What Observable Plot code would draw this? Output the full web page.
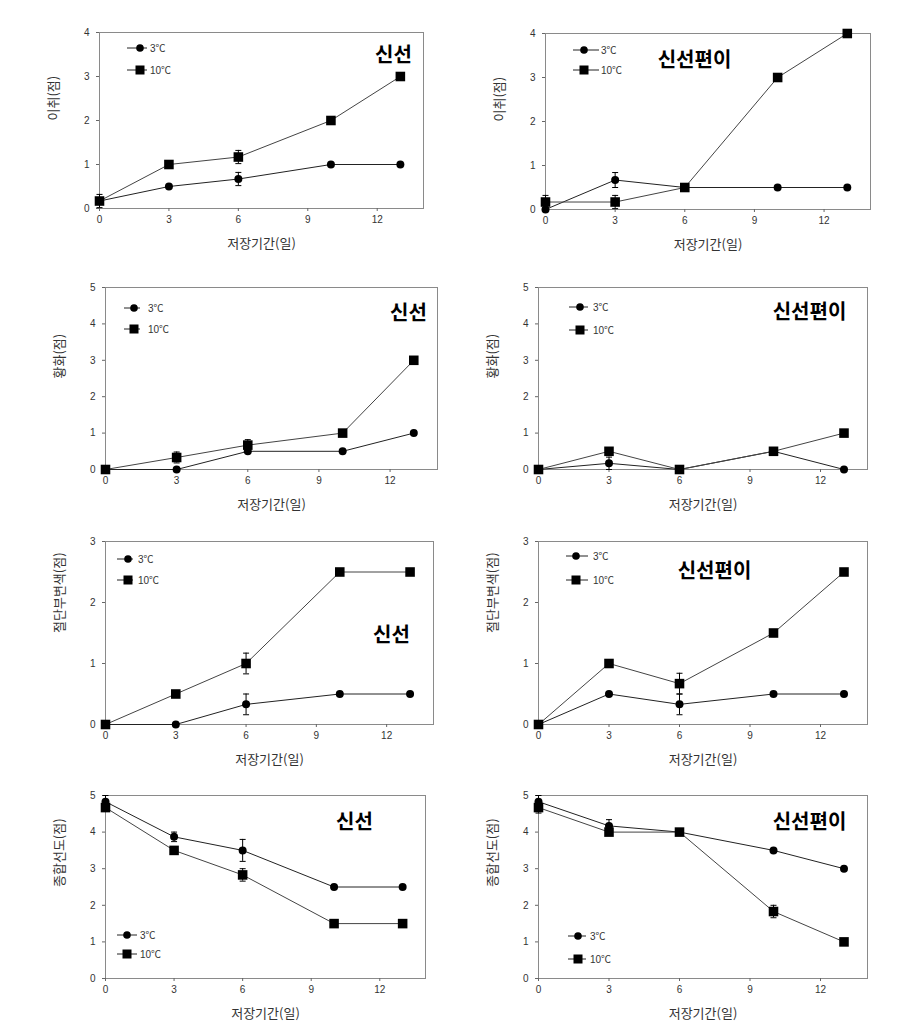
<!DOCTYPE html>
<html>
<head>
<meta charset="utf-8">
<script src="https://cdn.jsdelivr.net/npm/d3@7"></script>
<script src="https://cdn.jsdelivr.net/npm/@observablehq/plot@0.6"></script>
<style>
  body { margin: 0; background: #fff; }
  #wrap { position: relative; width: 913px; height: 1027px; background: #fff; overflow: hidden; }
  .cell { position: absolute; }
  .cell svg { overflow: visible; }
</style>
</head>
<body>
<div id="wrap"></div>
<script>
// ---------- data ----------
const days = [0, 3, 6, 10, 13];
const xTicks = [0, 3, 6, 9, 12];
const seriesNames = ["3℃", "10℃"];
const xLabel = "저장기간(일)";
const titleFresh = "신선";
const titleCut = "신선편이";

// 이취 (off-odor)
const odorFresh3 = [0.17, 0.5, 0.67, 1, 1];
const odorFresh3Err = [0, 0, 0.15, 0, 0];
const odorFresh10 = [0.17, 1, 1.17, 2, 3];
const odorFresh10Err = [0.15, 0, 0.15, 0, 0];
const odorCut3 = [0, 0.67, 0.5, 0.5, 0.5];
const odorCut3Err = [0, 0.17, 0, 0, 0];
const odorCut10 = [0.17, 0.17, 0.5, 3, 4];
const odorCut10Err = [0.15, 0.15, 0, 0, 0];

// 황화 (yellowing)
const yellowFresh3 = [0, 0, 0.5, 0.5, 1];
const yellowFresh3Err = [0, 0, 0, 0, 0];
const yellowFresh10 = [0, 0.33, 0.67, 1, 3];
const yellowFresh10Err = [0, 0.15, 0.15, 0, 0];
const yellowCut3 = [0, 0.17, 0, 0.5, 0];
const yellowCut3Err = [0, 0.17, 0, 0, 0];
const yellowCut10 = [0, 0.5, 0, 0.5, 1];
const yellowCut10Err = [0, 0, 0, 0, 0];

// 절단부변색 (cut-surface discoloration)
const brownFresh3 = [0, 0, 0.33, 0.5, 0.5];
const brownFresh3Err = [0, 0, 0.17, 0, 0];
const brownFresh10 = [0, 0.5, 1, 2.5, 2.5];
const brownFresh10Err = [0, 0, 0.17, 0, 0];
const brownCut3 = [0, 0.5, 0.33, 0.5, 0.5];
const brownCut3Err = [0, 0, 0.17, 0, 0];
const brownCut10 = [0, 1, 0.67, 1.5, 2.5];
const brownCut10Err = [0, 0, 0.17, 0, 0];

// 종합선도 (overall freshness)
const overallFresh3 = [4.83, 3.87, 3.5, 2.5, 2.5];
const overallFresh3Err = [0.17, 0.13, 0.3, 0, 0];
const overallFresh10 = [4.67, 3.5, 2.83, 1.5, 1.5];
const overallFresh10Err = [0.1, 0, 0.17, 0, 0];
const overallCut3 = [4.83, 4.17, 4, 3.5, 3];
const overallCut3Err = [0.17, 0.17, 0, 0, 0];
const overallCut10 = [4.67, 4, 4, 1.83, 1];
const overallCut10Err = [0.15, 0, 0, 0.17, 0];

// ---------- layout ----------
const panels = [
  {L: 99, T: 32, R: 423, B: 208, ymax: 4, ylabel: "이취(점)", title: titleFresh, tp: [294, 23],
   s3: odorFresh3, e3: odorFresh3Err, s10: odorFresh10, e10: odorFresh10Err,
   lg: {x1: 28, x2: 48, xm: 41, xt: 51, y1: 16, y2: 38}},
  {L: 545, T: 33, R: 870, B: 209, ymax: 4, ylabel: "이취(점)", title: titleCut, tp: [149, 27],
   s3: odorCut3, e3: odorCut3Err, s10: odorCut10, e10: odorCut10Err,
   lg: {x1: 28, x2: 54, xm: 39, xt: 56, y1: 17, y2: 37}},
  {L: 105, T: 287, R: 437, B: 469, ymax: 5, ylabel: "황화(점)", title: titleFresh, tp: [303, 26],
   s3: yellowFresh3, e3: yellowFresh3Err, s10: yellowFresh10, e10: yellowFresh10Err,
   lg: {x1: 19, x2: 35, xm: 29, xt: 43, y1: 21, y2: 42}},
  {L: 538, T: 287, R: 867, B: 469, ymax: 5, ylabel: "황화(점)", title: titleCut, tp: [271, 25],
   s3: yellowCut3, e3: yellowCut3Err, s10: yellowCut10, e10: yellowCut10Err,
   lg: {x1: 31, x2: 50, xm: 42, xt: 55, y1: 20, y2: 43}},
  {L: 105, T: 541, R: 433, B: 724, ymax: 3, ylabel: "절단부변색(점)", title: titleFresh, tp: [286, 94],
   s3: brownFresh3, e3: brownFresh3Err, s10: brownFresh10, e10: brownFresh10Err,
   lg: {x1: 12, x2: 28, xm: 23, xt: 33, y1: 18, y2: 39}},
  {L: 538, T: 541, R: 867, B: 724, ymax: 3, ylabel: "절단부변색(점)", title: titleCut, tp: [176, 30],
   s3: brownCut3, e3: brownCut3Err, s10: brownCut10, e10: brownCut10Err,
   lg: {x1: 28, x2: 50, xm: 38, xt: 55, y1: 15, y2: 39}},
  {L: 105, T: 795, R: 425, B: 978, ymax: 5, ylabel: "종합선도(점)", title: titleFresh, tp: [249, 27],
   s3: overallFresh3, e3: overallFresh3Err, s10: overallFresh10, e10: overallFresh10Err,
   lg: {x1: 12, x2: 32, xm: 22, xt: 35, y1: 140, y2: 159}},
  {L: 538, T: 795, R: 867, B: 978, ymax: 5, ylabel: "종합선도(점)", title: titleCut, tp: [271, 27],
   s3: overallCut3, e3: overallCut3Err, s10: overallCut10, e10: overallCut10Err,
   lg: {x1: 30, x2: 48, xm: 40, xt: 52, y1: 141, y2: 164}}
];

const FONT = "'Liberation Sans', Arial, 'Noto Sans CJK KR', sans-serif";
const KFONT = "'Noto Sans CJK KR', 'Liberation Sans', sans-serif";
const capSymbol = { draw(ctx) { ctx.moveTo(-3, 0); ctx.lineTo(3, 0); } };

function rowsOf(vals, errs, s) {
  return days.map((d, i) => ({day: d, v: vals[i], e: errs[i], s})).filter(r => r.v != null);
}

function legendMark(lg) {
  return (index, scales, values, dims) => {
    const g = d3.create("svg:g");
    const x0 = dims.marginLeft, y0 = dims.marginTop;
    [lg.y1, lg.y2].forEach((yy, k) => {
      const y = y0 + yy;
      g.append("line").attr("x1", x0 + lg.x1).attr("x2", x0 + lg.x2)
        .attr("y1", y).attr("y2", y).attr("stroke", "#222").attr("stroke-width", 1);
      if (k === 0) {
        g.append("circle").attr("cx", x0 + lg.xm).attr("cy", y).attr("r", 3.8).attr("fill", "#000");
      } else {
        g.append("rect").attr("x", x0 + lg.xm - 4.5).attr("y", y - 4.5)
          .attr("width", 9).attr("height", 9).attr("fill", "#000");
      }
      g.append("text").attr("x", x0 + lg.xt).attr("y", y).attr("dy", "0.35em")
        .attr("text-anchor", "start")
        .attr("font-size", 10).attr("fill", "#333").attr("font-family", FONT)
        .text(seriesNames[k]);
    });
    return g.node();
  };
}

const wrap = document.getElementById("wrap");
const mL = 60, mT = 10, mR = 10, mB = 50;

panels.forEach(p => {
  const r3 = rowsOf(p.s3, p.e3, seriesNames[0]);
  const r10 = rowsOf(p.s10, p.e10, seriesNames[1]);
  const errs = r3.concat(r10).filter(r => r.e > 0);
  const chart = Plot.plot({
    width: p.R - p.L + mL + mR,
    height: p.B - p.T + mT + mB,
    marginLeft: mL, marginTop: mT, marginRight: mR, marginBottom: mB,
    style: {fontFamily: FONT, fontSize: "10px", color: "#333", background: "transparent", overflow: "visible"},
    x: {domain: [0, 14]},
    y: {domain: [0, p.ymax]},
    marks: [
      Plot.frame({stroke: "#8a8a8a"}),
      Plot.axisX({ticks: xTicks, tickFormat: "d", tickSize: 3, tickPadding: 4, label: null, fontSize: 10, stroke: "#666"}),
      Plot.axisY({ticks: d3.range(p.ymax + 1), tickFormat: "d", tickSize: 3, tickPadding: 7, label: null, fontSize: 10, stroke: "#666"}),
      Plot.text([xLabel], {frameAnchor: "bottom", dy: 39, text: d => d, fontSize: 13, fontFamily: KFONT, fill: "#333"}),
      Plot.text([p.ylabel], {frameAnchor: "left", dx: -46, rotate: -90, text: d => d, fontSize: 13, fontFamily: KFONT, fill: "#333"}),
      Plot.line(r3, {x: "day", y: "v", stroke: "#222", strokeWidth: 1}),
      Plot.line(r10, {x: "day", y: "v", stroke: "#444", strokeWidth: 1}),
      Plot.ruleX(errs, {x: "day", y1: d => d.v - d.e, y2: d => d.v + d.e, stroke: "#000", strokeWidth: 1}),
      Plot.dot(errs, {x: "day", y: d => d.v + d.e, symbol: capSymbol, fill: "none", stroke: "#000", strokeWidth: 1}),
      Plot.dot(errs, {x: "day", y: d => Math.max(0, d.v - d.e), symbol: capSymbol, fill: "none", stroke: "#000", strokeWidth: 1}),
      Plot.dot(r3, {x: "day", y: "v", symbol: "circle", r: 4, fill: "#000", stroke: "none"}),
      Plot.dot(r10, {x: "day", y: "v", symbol: "square", r: 5.4, fill: "#000", stroke: "none"}),
      Plot.text([p.title], {frameAnchor: "top-left", dx: p.tp[0], dy: p.tp[1], text: d => d,
        fontSize: 20, fontWeight: "bold", fontFamily: KFONT, fill: "#000", textAnchor: "middle", lineAnchor: "middle"}),
      legendMark(p.lg)
    ]
  });
  const div = document.createElement("div");
  div.className = "cell";
  div.style.left = (p.L - mL) + "px";
  div.style.top = (p.T - mT) + "px";
  div.appendChild(chart);
  wrap.appendChild(div);
});
</script>
</body>
</html>
